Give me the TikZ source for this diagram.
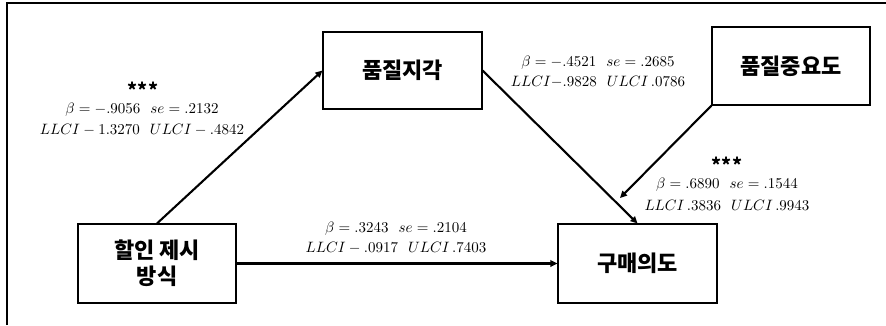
\documentclass[tikz,border=0pt]{standalone}
\usepackage{fontspec}
\newfontfamily\kr{Noto Sans CJK KR}
\usetikzlibrary{arrows.meta}
\newcommand{\mylab}[1]{\scalebox{1.5}{$#1$}}
\begin{document}
\begin{tikzpicture}[x=1pt,y=-1pt,
  box/.style={draw, line width=1.1pt, inner sep=0pt, align=center,
    font=\kr\bfseries\fontsize{22}{26}\selectfont},
  arr/.style={line width=2.1pt, -{Triangle[length=7pt,width=6.5pt]}},
  lab/.style={inner sep=0pt},
  star/.style={inner sep=0pt, font=\kr\bfseries\fontsize{19}{22}\selectfont}]
\useasboundingbox (0,0) rectangle (886,325);
\draw[line width=1.4pt] (7,325) -- (7,3) -- (886,3);
\node[box, minimum width=159pt, minimum height=77pt] (pq) at (402.5,70.5) {품질지각};
\node[box, minimum width=158pt, minimum height=78pt] (qi) at (791,66) {품질중요도};
\node[box, minimum width=158pt, minimum height=79pt] (dm) at (157,263.5) {할인 제시\\방식};
\node[box, minimum width=159pt, minimum height=79pt] (pi) at (637.5,263.5) {구매의도};
\coordinate (m) at (620,198);
\draw[arr] (dm.north) -- (pq.west);
\draw[arr] (pq.east) -- (pi.north);
\draw[arr] (qi.south west) -- (m);
\draw[arr] (dm.east) -- (pi.west);
% labels
\node[star] (s1) at (143,90) {***};
\node[lab] (a1) at (142,110) {\mylab{\beta=-.9056\ \ se=.2132}};
\node[lab] (a2) at (142,130) {\mylab{LLCI-1.3270\ \ ULCI-.4842}};
\node[lab] (b1) at (598,63) {\mylab{\beta=-.4521\ \ se=.2685}};
\node[lab] (b2) at (598,82) {\mylab{LLCI{-}.9828\ \ ULCI\,.0786}};
\node[star] (s2) at (727,165) {***};
\node[lab] (c1) at (727,185) {\mylab{\beta=.6890\ \ se=.1544}};
\node[lab] (c2) at (727,205) {\mylab{LLCI\,.3836\ \ ULCI\,.9943}};
\node[lab] (d1) at (396,229) {\mylab{\beta=.3243\ \ se=.2104}};
\node[lab] (d2) at (396,248) {\mylab{LLCI-.0917\ \ ULCI\,.7403}};
\end{tikzpicture}
\end{document}
